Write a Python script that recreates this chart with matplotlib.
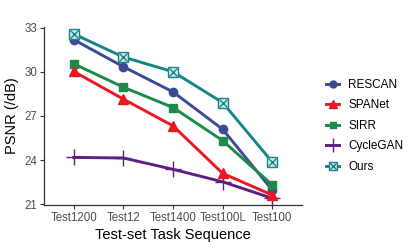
import matplotlib
matplotlib.use("Agg")
import matplotlib.pyplot as plt
from matplotlib.lines import Line2D

plt.rcParams['font.family'] = ['Liberation Sans', 'DejaVu Sans']

tasks = ["Test1200", "Test12", "Test1400", "Test100L", "Test100"]
rescan = [32.18, 30.34, 28.63, 26.09, 21.95]
spanet = [30.02, 28.14, 26.32, 23.09, 21.62]
sirr = [30.54, 28.95, 27.57, 25.32, 22.30]
cyclegan = [24.18, 24.14, 23.37, 22.52, 21.40]
ours = [32.57, 31.00, 30.00, 27.90, 23.86]
yticks = [21, 24, 27, 30, 33]

c_rescan = "#3C4A96"
c_spanet = "#EE1620"
c_sirr = "#1B8A4A"
c_cycle = "#5C2080"
c_ours = "#178585"

fig = plt.figure(figsize=(4.15, 2.49), dpi=100)
ax = fig.add_axes([0.106, 0.177, 0.622, 0.715])
x = list(range(1, len(tasks) + 1))

lw = 2.1
ax.plot(x, rescan, color=c_rescan, lw=lw, marker='o', ms=6, zorder=2)
ax.plot(x, sirr, color=c_sirr, lw=lw, marker='s', ms=6, zorder=3)
ax.plot(x, cyclegan, color=c_cycle, lw=lw, marker='|', ms=11, mew=1.0, zorder=4)
ax.plot(x, cyclegan, ls='none', marker='_', ms=11, mew=1.0, color=c_cycle, zorder=4)
ax.plot(x, spanet, color=c_spanet, lw=lw, marker='^', ms=7.5, zorder=5)
ax.plot(x, ours, color=c_ours, lw=lw, zorder=6)
ax.plot(x, ours, ls='none', marker='s', ms=7, mfc='#d6ecec', mec=c_ours, mew=1.0, zorder=7)
ax.plot(x, ours, ls='none', marker='x', ms=6, mec=c_ours, mew=1.0, zorder=8)

ax.set_xlim(0.4, 5.6)
ax.set_ylim(20.95, 33.05)
ax.set_xticks(x)
ax.set_xticklabels(tasks)
ax.set_yticks(yticks)
ax.tick_params(axis='both', colors='#333333', labelcolor='#4D4D4D', labelsize=8.3, length=3, width=0.8, pad=2)
for s in ['top', 'right']:
    ax.spines[s].set_visible(False)
for s in ['left', 'bottom']:
    ax.spines[s].set_color('#333333')
    ax.spines[s].set_linewidth(0.9)
ax.set_xlabel("Test-set Task Sequence", fontsize=10.5, color='black', labelpad=3)
ax.set_ylabel("PSNR (/dB)", fontsize=10.5, color='black', labelpad=4)

msl = 5
handles = [
    Line2D([], [], color=c_rescan, lw=lw, marker='o', ms=msl),
    Line2D([], [], color=c_spanet, lw=lw, marker='^', ms=msl + 1),
    Line2D([], [], color=c_sirr, lw=lw, marker='s', ms=msl),
    (Line2D([], [], color=c_cycle, lw=lw, marker='|', ms=10, mew=1.0),
     Line2D([], [], ls='none', color=c_cycle, marker='_', ms=10, mew=1.0)),
    (Line2D([], [], color=c_ours, lw=lw, marker='s', ms=msl + 1, mfc='#d6ecec', mec=c_ours, mew=1.0),
     Line2D([], [], ls='none', marker='x', ms=msl, mec=c_ours, mew=1.0)),
]
labels = ["RESCAN", "SPANet", "SIRR", "CycleGAN", "Ours"]
fig.legend(handles, labels, loc='center left', bbox_to_anchor=(0.775, 0.494),
           frameon=False, fontsize=8.5, handlelength=1.1, handletextpad=0.75,
           labelspacing=0.72, borderaxespad=0)

fig.savefig("out.png", dpi=100)
